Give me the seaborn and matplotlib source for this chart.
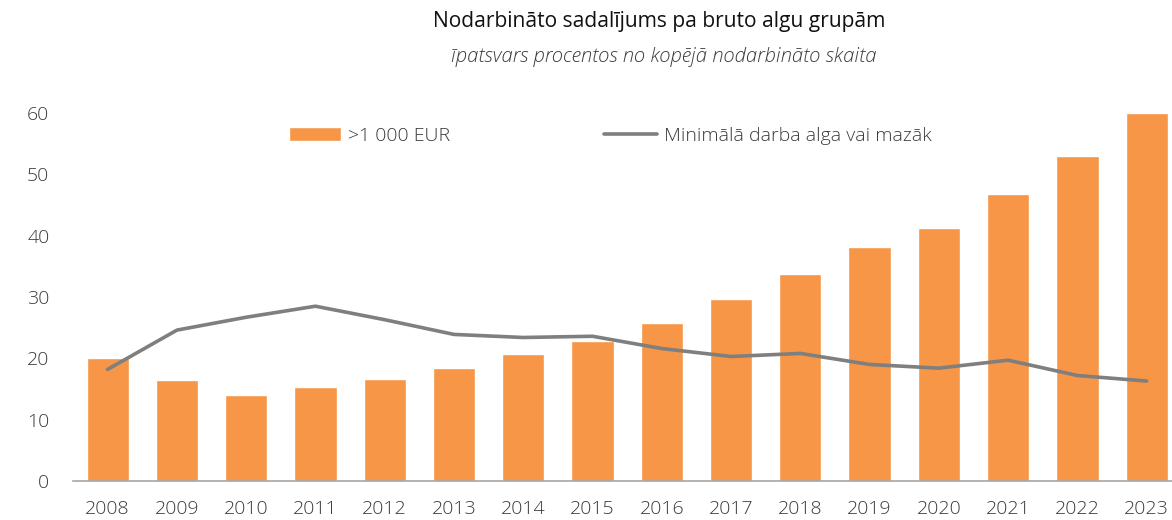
import numpy as np
import pandas as pd
import matplotlib
matplotlib.use('Agg')
import matplotlib.pyplot as plt
import seaborn as sns

years = ['2008', '2009', '2010', '2011', '2012', '2013', '2014', '2015',
         '2016', '2017', '2018', '2019', '2020', '2021', '2022', '2023']
over_1000 = [20.0, 16.4, 14.1, 15.3, 16.6, 18.5, 20.7, 22.9,
             25.7, 29.6, 33.8, 38.2, 41.3, 46.8, 53.0, 60.0]
min_wage = [18.2, 24.6, 26.7, 28.5, 26.3, 23.9, 23.4, 23.6,
            21.6, 20.3, 20.8, 19.0, 18.4, 19.7, 17.2, 16.3]

bar_label = '>1 000 EUR'
line_label = 'Minimālā darba alga vai mazāk'
title = 'Nodarbināto sadalījums pa bruto algu grupām'
subtitle = 'īpatsvars procentos no kopējā nodarbināto skaita'

sns.set_style('white')
plt.rcParams['font.family'] = ['Open Sans', 'DejaVu Sans']
txt = '#3a3a3a'

df = pd.DataFrame({'year': years, 'bar': over_1000, 'line': min_wage})

fig = plt.figure(figsize=(11.72, 5.2), dpi=100)
ax = fig.add_axes([73 / 1172, 39 / 520, 1 - 73 / 1172, (481 - 95) / 520])

sns.barplot(data=df, x='year', y='bar', color='#F79646', saturation=1,
            width=0.61, label=bar_label, ax=ax)
sns.lineplot(x=np.arange(len(years)), y=df['line'], color='#7F7F7F',
             linewidth=2.6, label=line_label, ax=ax)

ax.set_yticks(range(0, 61, 10))
ax.set_xticks(range(len(years)))
ax.set_xticklabels(years)
ax.set_xticks(np.arange(-0.5, len(years), 1), minor=True)
ax.set_ylim(0, (481 - 95) / 6.133)
ax.set_xlim(-0.5, 15.366)
ax.tick_params(axis='x', which='major', length=0, pad=14, labelsize=14, labelcolor=txt)
ax.tick_params(axis='x', which='minor', length=7, width=1, color='#A6A6A6', direction='out')
ax.tick_params(axis='y', length=0, pad=17, labelsize=14, labelcolor=txt)
for lab in ax.get_xticklabels() + ax.get_yticklabels():
    lab.set_fontweight('light')
ax.set_xlabel('')
ax.set_ylabel('')
sns.despine(ax=ax, left=True)
ax.spines['bottom'].set_color('#A6A6A6')
ax.spines['bottom'].set_linewidth(1.2)

handles, labels = ax.get_legend_handles_labels()
order = [labels.index(bar_label), labels.index(line_label)]
leg = ax.legend([handles[i] for i in order], [labels[i] for i in order],
                loc='center', bbox_to_anchor=(0.4886, 0.894), ncol=2, frameon=False,
                fontsize=14, labelcolor=txt, handlelength=2.7, handleheight=0.75,
                columnspacing=7.9, handletextpad=0.36)
for t in leg.get_texts():
    t.set_fontweight('light')

fig.text(659 / 1172, 1 - 21 / 520, title, ha='center', va='center', fontsize=15.1, color='#111111')
fig.text(663.5 / 1172, 1 - 57 / 520, subtitle, ha='center', va='center', fontsize=14.6,
         style='italic', fontweight='light', color=txt)

fig.savefig('out.png', dpi=100)
